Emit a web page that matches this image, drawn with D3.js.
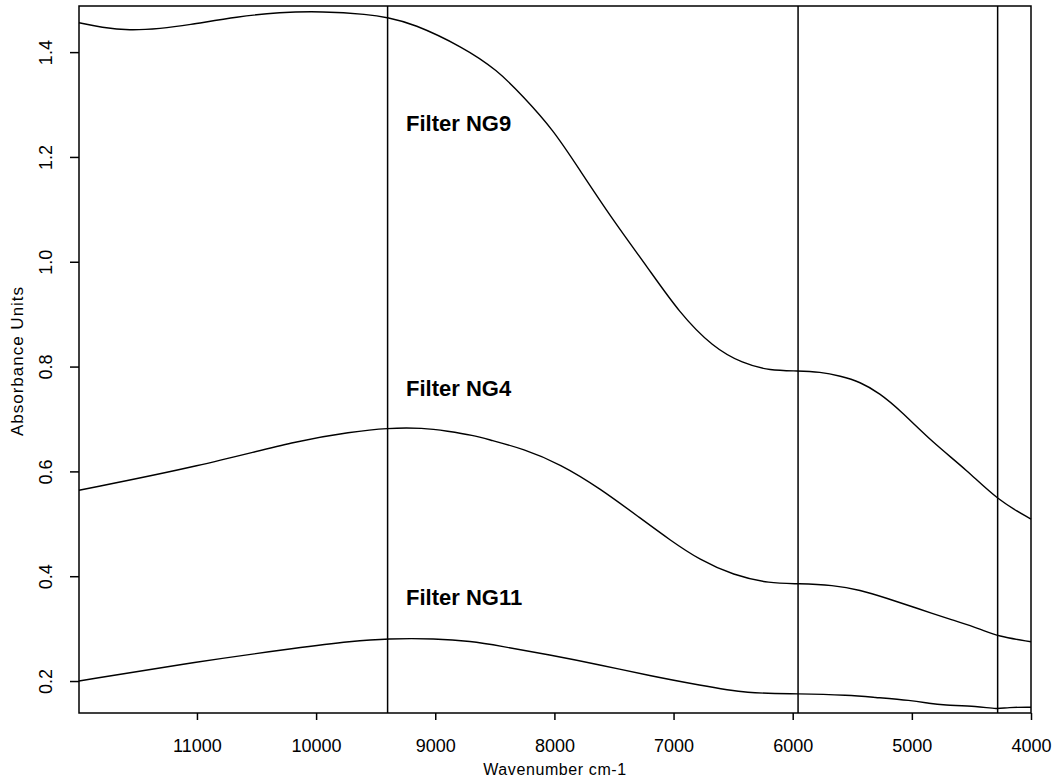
<!DOCTYPE html>
<html>
<head>
<meta charset="utf-8">
<script src="https://cdn.jsdelivr.net/npm/d3@7"></script>
<style>
  body { margin: 0; background: #fff; }
  text { font-family: "Liberation Sans", Arial, sans-serif; fill: #000; }
</style>
</head>
<body>
<div id="plotarea"></div>
<script>
// wavenumber (cm-1) / absorbance
var ng9_x = [11990, 11800, 11570, 11300, 11090, 10650, 10310, 9950, 9560, 9400, 9190, 8770, 8480, 8260, 8010, 7790, 7510, 7220, 6950, 6670, 6420, 6190, 5955, 5770, 5600, 5435, 5270, 5100, 4820, 4540, 4280, 4000];
var ng9_y = [1.456, 1.447, 1.441, 1.445, 1.451, 1.468, 1.476, 1.478, 1.472, 1.466, 1.455, 1.410, 1.366, 1.315, 1.252, 1.176, 1.080, 0.990, 0.902, 0.837, 0.806, 0.792, 0.792, 0.790, 0.782, 0.771, 0.749, 0.717, 0.654, 0.603, 0.545, 0.509];

var ng4_x = [11990, 10975, 10135, 9715, 9400, 9100, 8900, 8680, 8540, 8260, 7950, 7620, 7280, 7030, 6780, 6500, 6190, 5955, 5660, 5435, 5210, 4960, 4655, 4430, 4280, 4000];
var ng4_y = [0.564, 0.610, 0.660, 0.675, 0.683, 0.683, 0.677, 0.669, 0.660, 0.643, 0.614, 0.568, 0.511, 0.469, 0.431, 0.402, 0.386, 0.386, 0.383, 0.374, 0.358, 0.339, 0.316, 0.300, 0.285, 0.275];

var ng11_x = [11990, 11000, 10135, 9700, 9400, 9000, 8700, 8460, 8040, 7620, 7200, 6780, 6380, 5955, 5520, 5325, 5000, 4850, 4740, 4450, 4280, 4200, 4000];
var ng11_y = [0.200, 0.237, 0.264, 0.276, 0.281, 0.281, 0.276, 0.267, 0.250, 0.231, 0.210, 0.192, 0.176, 0.176, 0.173, 0.169, 0.163, 0.157, 0.154, 0.152, 0.146, 0.150, 0.150];

var marker_lines = [9400, 5955, 4280];

var x_ticks = [11000, 10000, 9000, 8000, 7000, 6000, 5000, 4000];
var y_ticks = [0.2, 0.4, 0.6, 0.8, 1.0, 1.2, 1.4];

var label_text = ["Filter NG9", "Filter NG4", "Filter NG11"];
var label_x = [9245, 9245, 9245];
var label_y = [1.250, 0.744, 0.345];

var margin_left = 79, margin_top = 6;
var width = 1031 - 79, height = 713 - 6;

var svg = d3.select("#plotarea").append("svg")
    .attr("width", 1052)
    .attr("height", 780);
var g = svg.append("g")
    .attr("transform", "translate(" + margin_left + "," + margin_top + ")");

var x_axis = d3.scaleLinear().domain([11990, 4000]).range([0, width]);
var y_axis = d3.scaleLinear().domain([0.139, 1.488]).range([height, 0]);

// axes
g.append("g")
    .attr("transform", "translate(0," + height + ")")
    .call(d3.axisBottom(x_axis).tickValues(x_ticks).tickSize(7).tickPadding(19).tickFormat(d3.format("d")))
    .call(function(a) {
      a.select(".domain").remove();
      a.selectAll("line").attr("stroke", "#000").attr("stroke-width", 1.5);
      a.selectAll("text").attr("font-size", "18px").attr("font-family", "Liberation Sans, Arial, sans-serif");
    });

g.append("g")
    .call(d3.axisLeft(y_axis).tickValues(y_ticks).tickSize(9).tickFormat(d3.format(".1f")))
    .call(function(a) {
      a.select(".domain").remove();
      a.selectAll("line").attr("stroke", "#000").attr("stroke-width", 1.5);
      a.selectAll("text")
        .attr("font-size", "18px")
        .attr("font-family", "Liberation Sans, Arial, sans-serif")
        .attr("text-anchor", "middle")
        .attr("dy", null)
        .attr("x", null)
        .attr("transform", "translate(-27,0) rotate(-90)");
    });

// frame
g.append("rect")
    .attr("x", 0).attr("y", 0)
    .attr("width", width).attr("height", height)
    .attr("fill", "none")
    .attr("stroke", "#000")
    .attr("stroke-width", 1.5);

// vertical marker lines
g.selectAll(".marker")
    .data(marker_lines)
    .enter().append("line")
    .attr("class", "marker")
    .attr("x1", function(d) { return x_axis(d); })
    .attr("x2", function(d) { return x_axis(d); })
    .attr("y1", 0)
    .attr("y2", height)
    .attr("stroke", "#000")
    .attr("stroke-width", 1.5);

// spectra
var line = d3.line()
    .x(function(d) { return x_axis(d[0]); })
    .y(function(d) { return y_axis(d[1]); })
    .curve(d3.curveBasis);

[[ng9_x, ng9_y], [ng4_x, ng4_y], [ng11_x, ng11_y]].forEach(function(s) {
  var pts = s[0].map(function(v, i) { return [v, s[1][i]]; });
  g.append("path")
    .datum(pts)
    .attr("fill", "none")
    .attr("stroke", "#000")
    .attr("stroke-width", 1.4)
    .attr("d", line);
});

// curve labels
g.selectAll(".lab")
    .data(label_text)
    .enter().append("text")
    .attr("class", "lab")
    .attr("x", function(d, i) { return x_axis(label_x[i]); })
    .attr("y", function(d, i) { return y_axis(label_y[i]); })
    .attr("font-size", "22px")
    .attr("font-weight", "bold")
    .text(function(d) { return d; });

// axis titles
svg.append("text")
    .attr("x", margin_left + width / 2)
    .attr("y", 775)
    .attr("text-anchor", "middle")
    .attr("font-size", "16px")
    .attr("letter-spacing", "0.6px")
    .text("Wavenumber cm-1");

svg.append("text")
    .attr("transform", "translate(23,361) rotate(-90)")
    .attr("text-anchor", "middle")
    .attr("font-size", "17px")
    .attr("letter-spacing", "1px")
    .text("Absorbance Units");
</script>
</body>
</html>
